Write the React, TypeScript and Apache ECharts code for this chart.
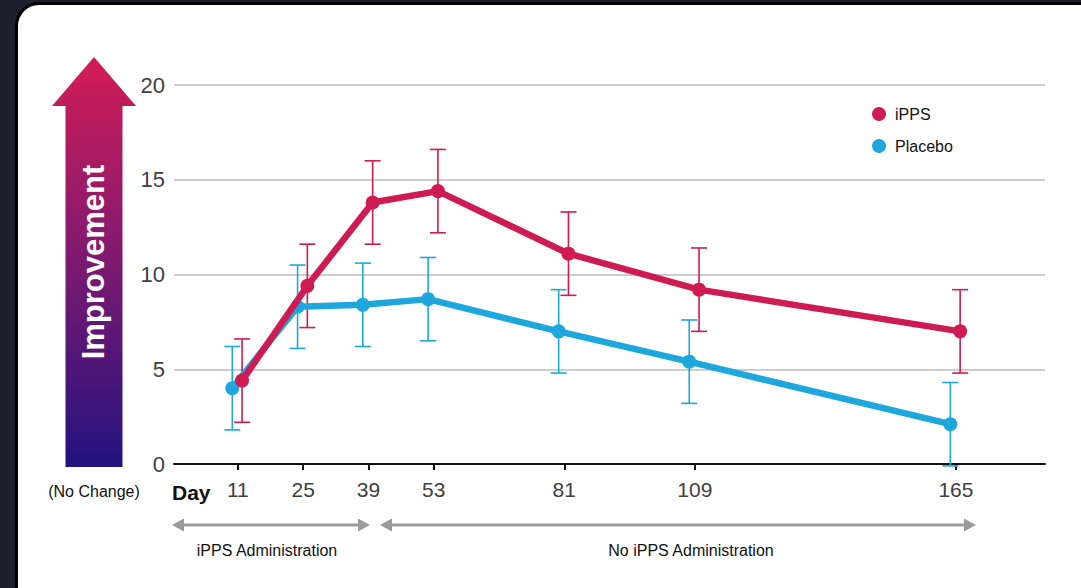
import React, { useEffect, useRef } from "react";
import * as echarts from "echarts";

// ---- data ----
const days = [11, 25, 39, 53, 81, 109, 165];
const ippsValues = [4.4, 9.4, 13.8, 14.4, 11.1, 9.2, 7.0];
const placeboValues = [4.0, 8.3, 8.4, 8.7, 7.0, 5.4, 2.1];
const ippsErrors = [2.2, 2.2, 2.2, 2.2, 2.2, 2.2, 2.2];
const placeboErrors = [2.2, 2.2, 2.2, 2.2, 2.2, 2.2, 2.2];
const ippsDayOffset = 0.9; // horizontal dodge in days
const placeboDayOffset = -1.2;
const yTicks = [0, 5, 10, 15, 20];
const seriesNames = ["iPPS", "Placebo"];
const phaseLabels = ["iPPS Administration", "No iPPS Administration"];

const RED = "#cf1b53";
const BLUE = "#1da7dd";
const FONT = "'Liberation Sans', Arial, sans-serif";

function errorRenderer(color: string) {
  return (params: any, api: any) => {
    const x = api.value(0);
    const lo = api.value(1);
    const hi = api.value(2);
    const top = api.coord([x, hi]);
    const bot = api.coord([x, lo]);
    const hw = 8;
    const style = { stroke: color, lineWidth: 1.6 };
    return {
      type: "group",
      children: [
        { type: "line", shape: { x1: top[0], y1: top[1], x2: bot[0], y2: bot[1] }, style },
        { type: "line", shape: { x1: top[0] - hw, y1: top[1], x2: top[0] + hw, y2: top[1] }, style },
        { type: "line", shape: { x1: bot[0] - hw, y1: bot[1], x2: bot[0] + hw, y2: bot[1] }, style },
      ],
    };
  };
}

export default function App() {
  const ref = useRef<HTMLDivElement>(null);

  useEffect(() => {
    if (!ref.current) return;
    const chart = echarts.init(ref.current, null, { renderer: "svg" });

    const ippsLine = days.map((d, i) => [d + ippsDayOffset, ippsValues[i]]);
    const placeboLine = days.map((d, i) => [d + placeboDayOffset, placeboValues[i]]);
    const ippsErr = days.map((d, i) => [d + ippsDayOffset, ippsValues[i] - ippsErrors[i], ippsValues[i] + ippsErrors[i]]);
    const placeboErr = days.map((d, i) => [
      d + placeboDayOffset,
      placeboValues[i] - placeboErrors[i],
      placeboValues[i] + placeboErrors[i],
    ]);

    const grey = "#9a9a9a";
    const arrowY = 525;

    chart.setOption({
      animation: false,
      textStyle: { fontFamily: FONT },
      grid: { left: 174, right: 36, top: 85, bottom: 124 },
      xAxis: {
        type: "value",
        min: -2.7,
        max: 184.1,
        splitLine: { show: false },
        axisLine: { show: true, onZero: false, lineStyle: { color: "#111", width: 2 } },
        axisTick: { show: true, customValues: days, length: 6, lineStyle: { color: "#111", width: 2 } },
        axisLabel: { customValues: days, fontSize: 21, color: "#404040", margin: 15, fontFamily: FONT },
      },
      yAxis: {
        type: "value",
        min: yTicks[0],
        max: yTicks[yTicks.length - 1],
        interval: 5,
        axisLine: { show: false },
        axisTick: { show: false },
        splitLine: { show: true, lineStyle: { color: "#bdbdbd", width: 1.5 } },
        axisLabel: { fontSize: 22, color: "#404040", margin: 9, fontFamily: FONT },
      },
      legend: {
        data: [
          { name: seriesNames[0], icon: "circle" },
          { name: seriesNames[1], icon: "circle" },
        ],
        orient: "vertical",
        left: 872,
        top: 106,
        padding: 0,
        itemWidth: 22,
        itemHeight: 14,
        itemGap: 16,
        selectedMode: false,
        textStyle: { fontSize: 16, color: "#111", fontFamily: FONT, lineHeight: 14 },
      },
      series: [
        {
          name: "placeboErr",
          type: "custom",
          renderItem: errorRenderer(BLUE),
          encode: { x: 0, y: [1, 2] },
          data: placeboErr,
          z: 2,
        },
        {
          name: "ippsErr",
          type: "custom",
          renderItem: errorRenderer(RED),
          encode: { x: 0, y: [1, 2] },
          data: ippsErr,
          z: 3,
        },
        {
          name: seriesNames[1],
          type: "line",
          data: placeboLine,
          symbol: "circle",
          symbolSize: 14,
          lineStyle: { color: BLUE, width: 6.5 },
          itemStyle: { color: BLUE },
          z: 4,
        },
        {
          name: seriesNames[0],
          type: "line",
          data: ippsLine,
          symbol: "circle",
          symbolSize: 14,
          lineStyle: { color: RED, width: 6.5 },
          itemStyle: { color: RED },
          z: 5,
        },
      ],
      graphic: [
        {
          type: "polygon",
          shape: {
            points: [
              [94, 57],
              [136, 106],
              [122.5, 106],
              [122.5, 467],
              [65.5, 467],
              [65.5, 106],
              [52, 106],
            ],
          },
          style: {
            fill: new echarts.graphic.LinearGradient(0, 0, 0, 1, [
              { offset: 0, color: "#d31c55" },
              { offset: 0.45, color: "#861a6e" },
              { offset: 1, color: "#22137f" },
            ]),
          },
        },
        {
          type: "text",
          x: 93,
          y: 262,
          rotation: Math.PI / 2,
          style: {
            text: "Improvement",
            fill: "#fff",
            font: `bold 31px ${FONT}`,
            textAlign: "center",
            textVerticalAlign: "middle",
          },
        },
        {
          type: "text",
          x: 94,
          y: 491,
          style: {
            text: "(No Change)",
            fill: "#111",
            font: `16px ${FONT}`,
            textAlign: "center",
            textVerticalAlign: "middle",
          },
        },
        {
          type: "text",
          x: 172,
          y: 492,
          style: {
            text: "Day",
            fill: "#111",
            font: `bold 21px ${FONT}`,
            textAlign: "left",
            textVerticalAlign: "middle",
          },
        },
        // phase arrows
        { type: "line", shape: { x1: 182, y1: arrowY, x2: 360, y2: arrowY }, style: { stroke: grey, lineWidth: 3 } },
        { type: "polygon", shape: { points: [[172, arrowY], [184, arrowY - 6.5], [184, arrowY + 6.5]] }, style: { fill: grey } },
        { type: "polygon", shape: { points: [[370, arrowY], [358, arrowY - 6.5], [358, arrowY + 6.5]] }, style: { fill: grey } },
        { type: "line", shape: { x1: 390, y1: arrowY, x2: 965, y2: arrowY }, style: { stroke: grey, lineWidth: 3 } },
        { type: "polygon", shape: { points: [[380, arrowY], [392, arrowY - 6.5], [392, arrowY + 6.5]] }, style: { fill: grey } },
        { type: "polygon", shape: { points: [[976, arrowY], [964, arrowY - 6.5], [964, arrowY + 6.5]] }, style: { fill: grey } },
        {
          type: "text",
          x: 267,
          y: 550,
          style: { text: phaseLabels[0], fill: "#111", font: `16px ${FONT}`, textAlign: "center", textVerticalAlign: "middle" },
        },
        {
          type: "text",
          x: 691,
          y: 550,
          style: { text: phaseLabels[1], fill: "#111", font: `16px ${FONT}`, textAlign: "center", textVerticalAlign: "middle" },
        },
      ],
    });

    return () => chart.dispose();
  }, []);

  return (
    <div
      style={{
        position: "absolute",
        left: 0,
        top: 0,
        width: 1081,
        height: 588,
        overflow: "hidden",
        background: "#1d1f2c",
      }}
    >
      <div
        style={{
          position: "absolute",
          left: 15,
          top: 2,
          width: 1100,
          height: 640,
          background: "#fff",
          border: "3px solid #000",
          borderRadius: 24,
        }}
      />
      <div ref={ref} style={{ position: "absolute", left: 0, top: 0, width: 1081, height: 588 }} />
    </div>
  );
}
